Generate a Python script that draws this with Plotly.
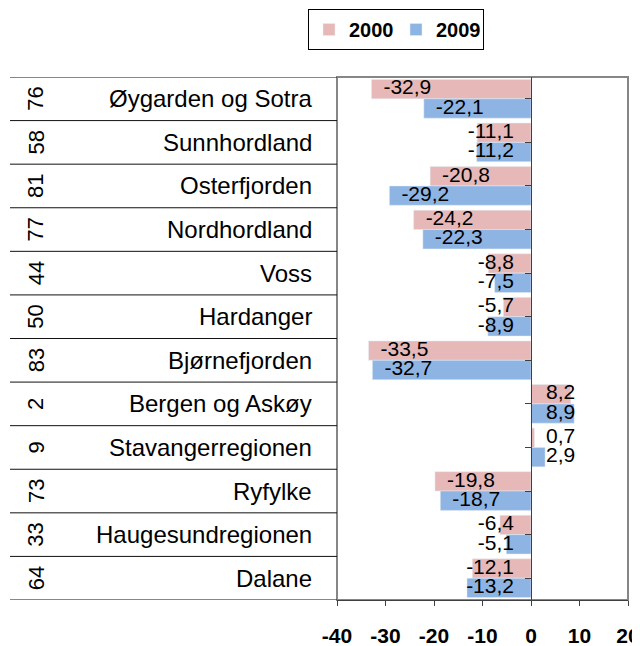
import plotly.graph_objects as go

regions = ["Øygarden og Sotra", "Sunnhordland", "Osterfjorden", "Nordhordland", "Voss",
           "Hardanger", "Bjørnefjorden", "Bergen og Askøy", "Stavangerregionen", "Ryfylke",
           "Haugesundregionen", "Dalane"]
ranks = [76, 58, 81, 77, 44, 50, 83, 2, 9, 73, 33, 64]
v2000 = [-32.9, -11.1, -20.8, -24.2, -8.8, -5.7, -33.5, 8.2, 0.7, -19.8, -6.4, -12.1]
v2009 = [-22.1, -11.2, -29.2, -22.3, -7.5, -8.9, -32.7, 8.9, 2.9, -18.7, -5.1, -13.2]
x_ticks = [-40, -30, -20, -10, 0, 10, 20]

FONT = "Liberation Sans, Arial, sans-serif"
PINK = "#E6B9B8"
BLUE = "#8EB4E3"
OFF = 8  # page body margin
W, H = 640 - OFF, 646 - OFF
L, T = 337 - OFF, 77 - OFF
R = W - (628 - OFF)
B = H - (600 - OFF)
plot_w = W - L - R
plot_h = H - T - B
XMIN, XMAX = x_ticks[0], x_ticks[-1]
px_per_unit = plot_w / (XMAX - XMIN)
LABEL_SIZE = 21

n = len(regions)
idx = list(range(n))
bw = 0.444

def fmt(v):
    return f"{v:.1f}".replace(".", ",")

fig = go.Figure()
fig.add_trace(go.Bar(name="2000", y=idx, x=v2000, orientation="h", marker_color=PINK,
                     width=bw, offset=-bw, hoverinfo="skip"))
fig.add_trace(go.Bar(name="2009", y=idx, x=v2009, orientation="h", marker_color=BLUE,
                     width=bw, offset=0, hoverinfo="skip"))

# data labels: inside end, pushed away from zero when the bar is short
pad = 12 / px_per_unit
gap0 = 17 / px_per_unit
char_w = 0.5 * LABEL_SIZE / px_per_unit

def label_pos(v):
    w = len(fmt(v)) * char_w
    if v < 0:
        if v + pad + w > -gap0:
            return -gap0, "middle left"
        return v + pad, "middle right"
    return gap0 - 2 / px_per_unit, "middle right"

for vals, off in ((v2000, -bw / 2), (v2009, bw / 2)):
    xs, pos = zip(*[label_pos(v) for v in vals])
    fig.add_trace(go.Scatter(x=list(xs), y=[i + off for i in idx], mode="text",
                             text=[fmt(v) for v in vals], textposition=list(pos),
                             textfont=dict(family=FONT, size=LABEL_SIZE, color="black"),
                             showlegend=False, hoverinfo="skip", cliponaxis=False))

def paper_x(px):
    return (px - OFF - L) / plot_w

def paper_y(py):
    return 1 - (py - OFF - T) / plot_h

annotations = []
for i in idx:
    annotations.append(dict(x=paper_x(36), y=i, xref="paper", yref="y", text=str(ranks[i]),
                            textangle=-90, showarrow=False, xanchor="center", yanchor="middle",
                            font=dict(family=FONT, size=22, color="black")))
    annotations.append(dict(x=paper_x(314), y=i, xref="paper", yref="y", text=regions[i],
                            showarrow=False, xanchor="right", yanchor="middle",
                            font=dict(family=FONT, size=24, color="black")))

shapes = [dict(type="rect", xref="paper", yref="paper", x0=0, x1=1, y0=0, y1=1,
               line=dict(color="#868686", width=2), layer="below")]
for i in range(n + 1):
    shapes.append(dict(type="line", xref="paper", yref="y", x0=paper_x(10), x1=0,
                       y0=i - 0.5, y1=i - 0.5, line=dict(color="#111111", width=1)))

fig.update_layout(
    width=W, height=H,
    margin=dict(l=L, r=R, t=T, b=B, autoexpand=False),
    paper_bgcolor="white", plot_bgcolor="white",
    barmode="overlay",
    font=dict(family=FONT, color="black"),
    showlegend=True,
    legend=dict(orientation="h", x=paper_x(396), xanchor="center", y=paper_y(9),
                yanchor="top", bordercolor="black", borderwidth=1, bgcolor="white",
                font=dict(family=FONT, size=20, color="black", weight="bold"),
                itemwidth=30, entrywidth=42, tracegroupgap=0),
    annotations=annotations,
    shapes=shapes,
    xaxis=dict(range=[XMIN, XMAX], tickvals=x_ticks, ticktext=[str(t) for t in x_ticks],
               showgrid=False, zeroline=False, showline=True, linecolor="#404040", linewidth=1,
               ticks="outside", ticklen=5, tickcolor="#404040", automargin=False,
               tickfont=dict(family=FONT, size=21, color="black", weight="bold"),
               ticklabelstandoff=12, fixedrange=True),
    yaxis=dict(range=[n - 0.5, -0.5], tickvals=[i for i in idx], showticklabels=False,
               showgrid=False, zeroline=False, showline=True, linecolor="#404040", linewidth=1,
               ticks="outside", ticklen=6, tickcolor="#404040", tickson="boundaries",
               automargin=False,
               anchor="free", position=(0 - XMIN) / (XMAX - XMIN), fixedrange=True),
)

fig.write_html("out.html")
